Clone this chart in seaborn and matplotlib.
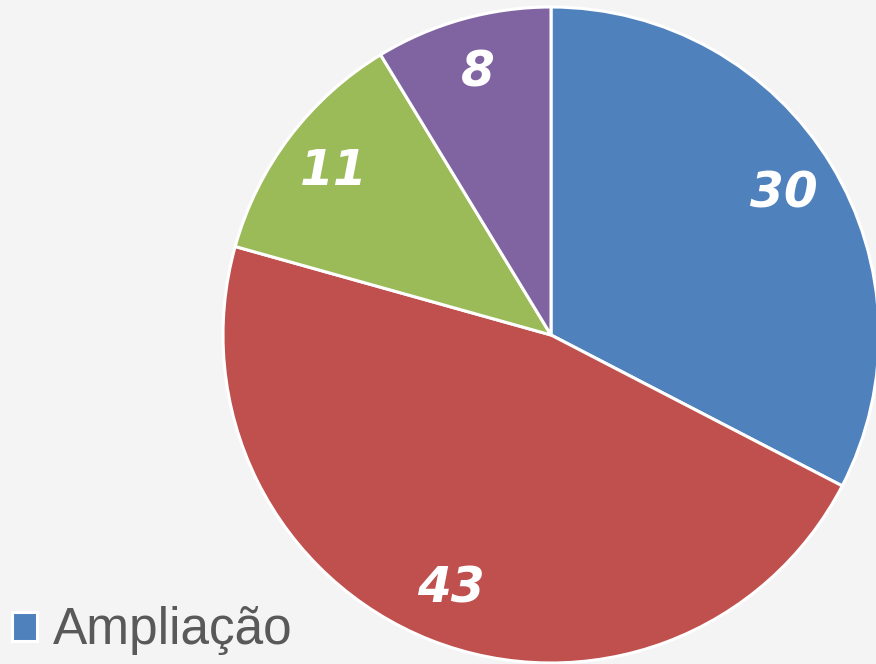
import matplotlib
matplotlib.use("Agg")
import matplotlib.pyplot as plt
import seaborn as sns

# data
categories = ["Ampliação", "Reforma", "Construção", "Outros"]
values = [30, 43, 11, 8]
colors = ["#4F81BD", "#C0504D", "#9BBB59", "#8064A2"]

sns.set_style("white")
plt.rcParams['font.family'] = ['DejaVu Sans']

fig = plt.figure(figsize=(8.76, 6.64), dpi=100)
fig.patch.set_facecolor("#f4f4f4")

# pie centred at roughly (551, 335) px with radius ~328 px
ax = fig.add_axes([223 / 876, 1 / 664, 656 / 876, 656 / 664])
ax.set_facecolor("none")

wedges, texts, autotexts = ax.pie(
    values,
    colors=sns.color_palette(colors),
    startangle=90,
    counterclock=False,
    autopct=lambda p: "{:.0f}".format(p * sum(values) / 100),
    pctdistance=0.83,
    wedgeprops=dict(edgecolor="white", linewidth=2.2),
    radius=1.0,
)
for t in autotexts:
    t.set_color("white")
    t.set_fontsize(35)
    t.set_fontweight("bold")
    t.set_fontstyle("italic")

ax.set_xlim(-1, 1)
ax.set_ylim(-1, 1)
ax.set_aspect("equal")
ax.axis("off")

# only the first legend entry is visible in the reference
leg = fig.legend(
    [wedges[0]], [categories[0]],
    loc="lower left", bbox_to_anchor=(-0.01, -0.018),
    frameon=False, fontsize=37, handlelength=0.5, handleheight=0.5,
    handletextpad=0.3, borderaxespad=0.0,
)
for txt in leg.get_texts():
    txt.set_color("#595959")
    txt.set_family(["Liberation Sans", "DejaVu Sans"])

fig.savefig("out.png", dpi=100, facecolor=fig.get_facecolor())
